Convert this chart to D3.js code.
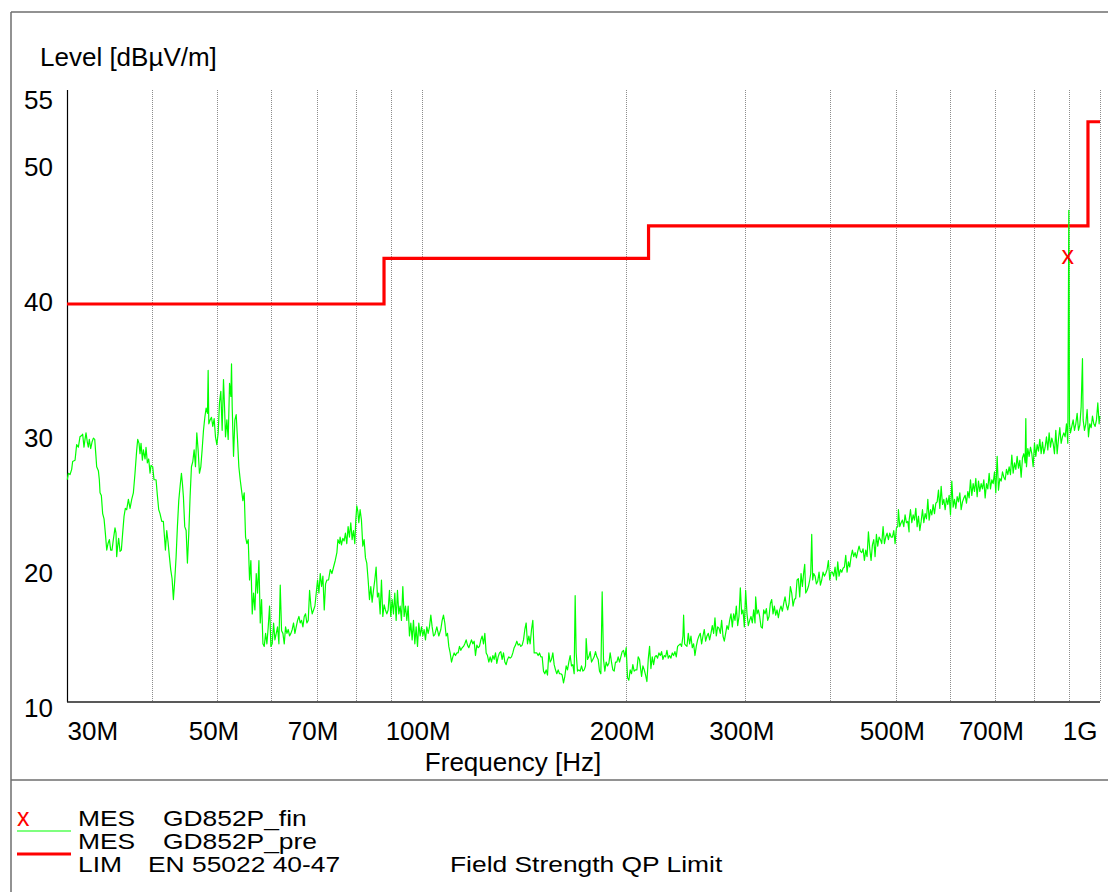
<!DOCTYPE html>
<html><head><meta charset="utf-8">
<script src="https://cdn.jsdelivr.net/npm/d3@7"></script>
<style>
body{margin:0;background:#fff}
svg{display:block}
text{font-family:"Liberation Sans",Arial,Helvetica,sans-serif;fill:#000}
</style>
</head><body>
<svg id="chart" width="1108" height="892"></svg>
<script>
// ---------- data (frequency in MHz, level in dBµV/m) ----------
const xTickValues = [30, 50, 70, 100, 200, 300, 500, 700, 1000];
const xTickLabels = ["30M", "50M", "70M", "100M", "200M", "300M", "500M", "700M", "1G"];
const gridFreqs = [40, 50, 60, 70, 80, 90, 100, 200, 300, 400, 500, 600, 700, 800, 900, 1000];
const yTickValues = [10, 20, 30, 40, 50, 55];

const limitFreq = [30, 88, 216, 960, 1000];
const limitLevel = [40, 43.5, 46, 54, 54];

const finFreq = [896];
const finLevel = [43.6];

const preScan = [
[30.03,26.5],[30.14,27.0],[30.31,26.9],[30.48,27.3],[30.58,27.9],[30.83,28.0],[31.00,29.2],[31.18,29.0],[31.35,29.8],[31.53,29.9],
[31.64,30.0],[31.78,29.0],[31.89,29.6],[32.00,30.1],[32.14,29.4],[32.25,29.0],[32.36,29.6],[32.51,28.9],[32.66,29.4],[32.81,29.7],
[32.96,29.6],[33.10,28.3],[33.18,27.5],[33.37,27.2],[33.48,26.5],[33.56,25.5],[33.71,25.3],[33.86,23.9],[34.02,23.5],[34.17,22.4],
[34.33,21.1],[34.48,21.6],[34.64,21.9],[34.80,21.1],[34.95,21.1],[35.11,21.9],[35.31,22.8],[35.43,22.4],[35.51,20.6],[35.63,21.4],
[35.75,22.0],[35.92,21.0],[36.08,21.1],[36.24,22.4],[36.41,23.7],[36.57,24.3],[36.74,24.2],[36.95,25.0],[37.16,24.3],[37.37,25.0],
[37.58,25.5],[37.79,27.0],[38.01,28.8],[38.14,29.6],[38.31,29.3],[38.44,28.5],[38.57,29.3],[38.75,28.0],[38.88,28.8],[39.10,28.1],
[39.23,29.0],[39.41,27.8],[39.59,28.1],[39.77,27.0],[39.90,27.6],[40.13,27.5],[40.31,26.5],[40.59,26.5],[40.77,25.3],[40.96,24.2],
[41.14,23.9],[41.38,23.3],[41.61,23.3],[41.90,21.1],[42.09,22.6],[42.28,21.7],[42.47,20.6],[42.66,19.6],[42.86,18.9],[43.05,17.3],
[43.25,18.8],[43.45,20.6],[43.64,22.9],[43.84,24.9],[44.04,26.0],[44.24,27.0],[44.39,26.2],[44.54,25.2],[44.74,22.9],[44.95,22.6],
[45.15,20.1],[45.36,22.4],[45.56,25.2],[45.77,27.5],[45.98,27.9],[46.19,28.8],[46.40,27.5],[46.61,30.1],[46.82,28.8],[47.03,27.0],
[47.25,27.5],[47.46,28.8],[47.68,30.3],[47.90,31.3],[48.11,32.0],[48.33,31.6],[48.44,34.9],[48.55,30.8],[48.77,31.1],[48.99,31.3],
[49.21,30.6],[49.44,31.2],[49.66,29.8],[49.89,29.2],[50.12,30.1],[50.34,32.4],[50.57,33.3],[50.80,30.3],[51.03,34.2],[51.21,32.1],
[51.38,29.8],[51.62,31.1],[51.85,29.6],[52.09,33.9],[52.32,32.9],[52.44,35.4],[52.56,32.1],[52.80,28.3],[53.04,31.1],[53.28,31.5],
[53.52,29.6],[53.76,27.5],[54.01,26.5],[54.25,25.7],[54.50,24.9],[54.75,25.5],[55.00,22.1],[55.25,21.6],[55.50,21.9],[55.75,18.8],
[56.00,20.3],[56.26,16.2],[56.51,17.8],[56.77,16.5],[57.03,19.3],[57.29,17.8],[57.55,20.3],[57.81,15.5],[58.07,17.3],[58.34,13.9],
[58.60,13.7],[58.87,14.7],[59.13,13.9],[59.40,15.2],[59.67,16.8],[59.94,13.7],[60.21,13.9],[60.49,15.5],[60.76,14.2],[61.04,14.7],
[61.31,15.2],[61.59,13.9],[61.87,18.4],[62.15,14.9],[62.43,14.7],[62.72,13.9],[63.00,15.2],[63.29,14.7],[63.57,15.0],[63.86,14.5],
[64.15,14.7],[64.44,15.0],[64.73,15.5],[65.03,14.7],[65.32,15.2],[65.62,15.7],[65.92,16.0],[66.21,15.5],[66.52,15.7],[66.82,15.2],
[67.12,16.0],[67.42,16.2],[67.73,15.5],[68.04,15.7],[68.35,18.0],[68.66,16.8],[68.97,16.2],[69.28,16.5],[69.60,16.8],[69.91,17.8],
[70.23,18.8],[70.55,17.8],[70.87,19.3],[71.19,18.3],[71.51,19.1],[71.84,16.5],[72.16,18.5],[72.49,18.8],[72.90,18.8],[73.32,19.6],
[73.73,19.3],[74.15,19.8],[74.57,20.3],[74.99,20.9],[75.25,21.9],[75.67,21.6],
[75.81,22.1],[76.16,21.5],[76.51,22.0],[76.85,21.8],[77.20,22.4],[77.55,21.6],[77.90,22.9],[78.26,22.1],[78.61,23.2],[78.97,21.9],
[79.33,22.6],[79.69,21.6],[79.96,23.4],[80.23,24.5],[80.50,24.1],[80.78,23.2],[81.14,24.2],[81.51,23.4],[81.88,21.4],[82.25,21.9],
[82.63,20.5],[83.00,20.1],[83.38,18.8],[83.76,17.3],[84.14,18.3],[84.52,17.1],[84.90,18.0],[85.29,18.8],[85.67,19.8],[86.06,17.5],
[86.45,17.8],[86.85,16.2],[87.24,18.8],[87.64,16.0],[88.03,16.9],[88.43,16.5],[88.84,16.2],[89.24,16.5],[89.64,18.0],[90.05,16.0],
[90.46,17.3],[90.87,16.2],[91.28,17.8],[91.70,15.7],[92.11,18.0],[92.53,16.2],[92.95,16.8],[93.37,15.7],[93.80,18.3],[94.22,16.0],
[94.65,16.8],[95.08,15.7],[95.51,16.8],[95.94,14.5],[96.38,15.5],[96.82,14.2],[97.25,15.7],[97.70,13.9],[98.14,15.2],[98.59,13.7],
[99.03,15.5],[99.48,14.5],[99.93,15.2],[100.39,14.5],[100.84,15.0],[101.30,14.2],[101.76,15.2],[102.22,14.7],[102.68,15.2],[103.15,16.1],
[103.62,15.2],[104.09,14.5],[104.56,14.6],[105.27,15.2],[105.99,14.5],[106.71,15.0],[107.20,15.7],[107.68,16.1],[108.17,15.5],[108.66,14.5],
[109.16,14.7],[109.65,13.7],[110.15,13.2],[110.65,12.5],[111.15,12.9],[111.65,13.2],[112.16,13.0],[112.67,13.2],[113.18,13.2],[113.69,13.7],
[114.21,13.4],[114.73,13.6],[115.25,13.7],[115.77,13.9],[116.30,14.2],[116.83,13.8],[117.35,13.6],[117.89,13.9],[118.42,14.2],[118.96,13.9],
[119.50,14.1],[120.04,13.0],[120.59,13.8],[121.13,13.6],[121.68,13.7],[122.24,14.2],[122.79,14.5],[123.35,13.9],[123.91,14.7],[124.47,13.2],
[125.03,13.0],[125.60,12.5],[126.17,12.9],[126.74,12.5],[127.32,13.0],[127.89,12.7],[128.48,13.2],[129.06,12.4],[129.64,12.9],[130.23,13.2],
[130.82,13.3],[131.41,12.7],[132.01,13.2],[132.61,12.5],[133.21,12.3],[133.82,12.7],[134.42,12.9],[135.03,12.8],[135.65,12.9],[136.26,13.2],
[136.88,13.6],[137.50,13.8],[138.12,14.1],[138.75,13.8],[139.38,13.9],[140.01,13.7],[140.65,13.8],[141.29,14.2],[141.93,15.0],[142.57,15.5],
[143.22,13.9],[143.87,14.5],[144.52,13.9],[145.18,15.0],[145.83,15.7],[146.50,13.2],[147.16,13.2],[147.83,13.2],[148.50,13.0],[149.17,13.2],
[149.85,12.9],[150.53,12.9],[151.21,11.8],[151.90,11.6],[152.59,11.9],[153.28,11.5],[153.97,13.2],[154.67,12.5],[155.37,12.7],[156.08,13.2],
[156.79,12.3],[157.50,11.9],[158.21,11.6],[158.93,11.9],[159.65,11.6],[160.38,11.6],[161.10,11.5],[161.84,10.9],[162.57,11.4],[163.31,12.2],
[164.05,11.9],[164.79,12.5],[165.54,13.0],[166.29,12.2],[167.04,12.3],[167.80,11.6],[168.37,17.6],[168.95,13.2],[169.71,11.8],[170.48,11.9],
[171.26,11.8],[172.04,12.2],[172.82,11.8],[173.60,11.9],[174.39,12.2],[174.78,14.3],[175.58,12.7],[176.37,12.9],[177.17,13.3],[177.98,12.5],
[178.79,12.7],[179.60,12.9],[180.41,13.3],[181.23,12.9],[182.05,12.7],[182.88,11.8],[183.71,11.6],[184.54,17.9],[185.38,12.7],[186.22,11.8],
[187.06,12.5],[187.91,12.2],[188.77,12.4],[189.62,13.2],[190.48,12.5],[191.35,11.9],[192.22,11.8],[193.09,12.5],[193.96,12.5],[194.84,12.9],
[195.73,12.5],[196.61,12.9],[197.51,13.3],[198.40,13.4],[199.30,12.9],[200.21,13.6],[201.12,11.3],[202.03,11.1],[202.95,11.9],[203.87,11.6],
[204.79,12.3],[205.72,11.8],[206.66,11.9],[207.59,11.9],[208.54,12.9],[209.48,12.7],
[210.00,12.2],[210.95,11.4],[211.91,12.2],[212.87,11.9],[213.84,11.5],[214.81,11.0],[215.78,12.7],[216.76,13.7],[217.75,12.0],[218.73,12.9],
[219.73,12.3],[220.72,12.9],[221.72,13.0],[222.73,12.8],[223.74,13.2],[224.76,13.0],[225.78,13.3],[226.80,12.7],[227.83,13.0],[228.87,12.9],
[229.91,13.4],[230.95,12.8],[232.00,13.0],[233.05,12.8],[234.11,13.2],[235.17,13.0],[236.24,13.3],[237.31,12.9],[238.39,13.7],[239.47,13.8],
[240.56,13.9],[241.65,13.7],[242.75,14.5],[243.30,16.1],[244.13,13.9],[244.96,13.8],[246.07,13.7],[247.19,14.7],[248.31,13.9],[249.44,14.5],
[250.57,13.6],[251.71,13.9],[252.85,13.0],[254.00,13.7],[255.15,14.2],[256.31,14.5],[257.47,14.7],[258.64,13.9],[259.82,14.5],[261.00,15.0],
[262.18,14.1],[263.37,14.5],[264.57,14.7],[265.77,14.2],[266.97,14.7],[268.19,15.3],[269.40,14.7],[270.63,15.9],[271.86,14.5],[273.09,15.2],
[274.33,15.1],[275.58,14.7],[276.83,15.7],[278.08,14.5],[279.35,14.1],[280.62,14.7],[281.89,15.3],[283.17,15.0],[284.46,15.7],[285.75,16.2],
[287.05,15.2],[288.35,16.2],[289.66,15.7],[290.98,16.8],[292.30,15.3],[293.62,16.0],[294.96,18.2],[296.30,16.2],[297.64,16.5],[298.99,15.2],
[300.35,18.0],[301.71,16.2],[303.08,15.3],[304.46,15.7],[305.84,16.0],[307.23,15.5],[308.62,16.5],[310.03,15.5],[310.73,17.5],[312.14,16.2],
[313.56,16.5],[314.98,16.0],[316.42,15.2],[317.85,15.1],[319.30,16.5],[320.75,16.2],[322.20,16.6],[323.67,15.7],[325.14,16.0],[326.61,17.0],
[328.10,17.3],[329.59,16.2],[331.08,16.8],[332.59,16.1],[334.10,16.5],[335.61,15.9],[337.14,16.5],[338.67,16.8],[340.21,16.4],[341.75,17.0],
[343.30,17.5],[344.86,16.9],[346.43,16.5],[348.00,17.0],[349.58,18.3],[351.17,17.8],[352.76,16.8],[354.36,17.3],[355.97,17.4],[357.59,18.8],
[359.21,18.9],[360.84,17.5],[362.48,19.3],[364.12,18.3],[365.78,19.4],[367.02,20.0],[368.27,17.8],[369.94,18.0],[371.62,18.3],[373.31,18.8],
[374.58,19.3],[375.85,22.3],[377.10,18.8],[378.41,19.3],[380.13,19.1],[381.85,18.5],[383.59,18.7],[385.33,19.4],[387.08,18.4],[388.83,18.8],
[390.60,19.4],[392.37,19.1],[394.15,19.3],[395.94,19.6],[397.74,20.3],[399.54,18.8],[401.36,19.4],[403.18,19.4],[405.01,19.1],[406.85,19.8],
[408.69,18.8],[410.55,20.2],[412.41,19.1],[414.29,19.6],[416.17,19.4],[418.05,19.7],[419.95,19.8],[421.86,20.7],[423.77,19.4],[425.69,20.2],
[427.63,19.8],[429.57,20.6],[431.51,21.1],[433.47,20.6],[435.44,20.9],[437.41,20.5],[439.40,21.0],[441.39,21.4],[443.40,21.0],[445.41,20.9],
[447.43,21.2],[449.46,20.3],[451.50,21.1],[453.55,20.6],[455.61,22.5],[457.67,21.2],[459.75,20.3],[461.84,21.5],[463.93,21.9],[466.04,20.6],
[468.15,22.3],[470.28,21.4],[472.41,22.1],[474.56,21.9],[476.71,21.6],[478.87,22.9],[481.05,21.6],[483.23,22.1],[485.42,22.4],[487.62,21.9],
[489.84,22.4],[492.06,22.1],[494.29,22.1],[496.54,22.6],[498.79,21.6],[501.05,22.8],[503.33,22.9],[504.47,24.2],[506.75,22.9],[509.05,23.2],
[511.36,23.4],[513.68,22.9],[516.01,23.8],[518.35,23.2],[520.70,23.3],[523.07,22.5],
[523.16,23.4],[525.54,24.2],[527.92,23.2],[530.32,23.8],[532.73,23.4],[535.15,24.3],[537.58,22.9],[540.02,23.7],[542.46,22.6],[544.92,23.3],
[547.40,24.2],[549.88,23.2],[552.38,23.9],[554.88,23.5],[557.40,25.0],[559.93,23.4],[562.47,24.2],[565.02,23.8],[567.58,24.6],[570.16,23.9],
[572.75,24.7],[575.34,24.8],[577.95,25.7],[580.57,24.3],[583.21,26.0],[585.85,24.6],[588.51,25.0],[591.18,24.2],[593.86,25.1],[596.56,24.6],
[599.26,25.3],[601.98,23.8],[604.71,26.4],[607.45,24.4],[610.21,25.0],[612.98,24.3],[615.76,25.2],[618.55,24.8],[621.36,25.5],[624.18,24.2],
[627.01,24.8],[629.86,25.1],[632.71,25.3],[635.58,24.7],[638.47,25.6],[641.36,25.1],[644.27,26.5],[647.20,25.3],[650.13,26.2],[653.08,25.6],
[656.04,26.6],[659.02,25.2],[662.01,26.4],[665.01,25.6],[668.03,26.2],[671.06,25.8],[674.10,26.5],[677.16,25.1],[680.23,26.2],[683.32,25.8],
[686.42,27.0],[689.53,25.8],[692.66,26.5],[695.80,26.2],[698.96,27.1],[702.13,25.5],[705.31,28.3],[708.51,25.7],[711.73,26.6],[714.95,26.4],
[718.20,27.1],[721.45,26.7],[724.73,26.5],[728.01,27.3],[731.32,26.9],[734.63,27.5],[737.96,26.9],[741.31,28.4],[744.68,27.0],[748.05,27.8],
[751.45,27.3],[754.85,28.3],[758.28,27.4],[761.72,28.0],[765.17,26.7],[768.64,28.2],[772.13,28.5],[775.63,27.8],[777.39,31.2],[779.15,27.5],
[782.68,28.9],[786.23,28.3],[789.80,29.0],[793.38,28.5],[796.98,27.5],[800.59,29.3],[804.23,28.3],[807.87,29.2],[811.54,28.7],[815.22,29.6],
[818.91,28.5],[822.63,29.4],[826.36,28.5],[830.11,29.0],[833.87,29.8],[837.65,28.8],[841.45,30.1],[845.27,29.0],[849.10,29.7],[852.95,29.3],
[856.82,28.5],[860.71,30.3],[864.61,28.5],[868.53,29.6],[872.47,30.5],[876.43,29.3],[880.40,29.8],[884.39,30.1],[888.40,29.8],[892.43,30.8],
[896.48,29.3],[899.53,47.2],[901.57,30.8],[904.64,30.1],[908.74,30.6],[912.87,31.1],[917.01,30.3],[921.17,30.8],[925.35,31.6],[929.55,30.3],
[933.76,30.7],[938.00,32.1],[942.25,35.8],[944.39,31.1],[948.67,30.3],[952.98,30.8],[957.30,31.9],[961.64,29.8],[966.00,30.8],[970.38,30.5],
[974.79,31.4],[979.21,30.8],[983.65,30.6],[988.11,31.1],[992.59,32.4],[997.09,30.8],[999.35,31.4]
];

const legendRows = [
  {mark: "x",    a: "MES", b: "GD852P_fin",     c: ""},
  {mark: "pre",  a: "MES", b: "GD852P_pre",     c: ""},
  {mark: "lim",  a: "LIM", b: "EN 55022 40-47", c: "Field Strength QP Limit"}
];

// ---------- drawing ----------
const svg = d3.select("#chart");
const FONT = 26;
const LEG_FONT = 22;
const LEG_SX = 1.2;

const x = d3.scaleLog().domain([30, 1000]).range([67, 1100]);
const y = d3.scaleLinear().domain([9.43, 56.44]).range([702, 90]);
const yLabel = d3.scaleLinear().domain([10, 55]).range([708, 100]);

// outer frame
const frame = svg.append("g").attr("stroke", "#6e6e6e").attr("stroke-width", 1.5);
frame.append("line").attr("x1", 11).attr("y1", 12).attr("x2", 1108).attr("y2", 12);
frame.append("line").attr("x1", 11).attr("y1", 12).attr("x2", 11).attr("y2", 892);
frame.append("line").attr("x1", 11).attr("y1", 780).attr("x2", 1108).attr("y2", 780);

// vertical dotted grid
svg.append("g").selectAll("line").data(gridFreqs).join("line")
  .attr("x1", d => Math.round(x(d)) + 0.5).attr("x2", d => Math.round(x(d)) + 0.5)
  .attr("y1", y.range()[1]).attr("y2", y.range()[0])
  .attr("stroke", "#8c8c8c").attr("stroke-width", 1).attr("stroke-dasharray", "1,1");

// axis lines
svg.append("line").attr("x1", 67.5).attr("x2", 67.5).attr("y1", 90).attr("y2", 702)
  .attr("stroke", "#000").attr("stroke-width", 1.2);
svg.append("line").attr("x1", 67).attr("x2", 1100).attr("y1", 702).attr("y2", 702)
  .attr("stroke", "#222").attr("stroke-width", 1.6);

// y axis labels
const yAxisG = svg.append("g").attr("transform", "translate(56,0)")
  .call(d3.axisLeft(yLabel).tickValues(yTickValues).tickSize(0).tickPadding(3).tickFormat(d3.format("d")));
yAxisG.select(".domain").remove();
yAxisG.attr("font-size", FONT).attr("font-family", null);
yAxisG.selectAll("text").style("fill", "#000");

// x axis labels
const xAxisG = svg.append("g").attr("transform", "translate(0,702)")
  .call(d3.axisBottom(x).tickValues(xTickValues).tickSize(0).tickPadding(0)
    .tickFormat((d, i) => xTickLabels[i]));
xAxisG.select(".domain").remove();
xAxisG.attr("font-size", FONT).attr("font-family", null);
xAxisG.selectAll("text").style("fill", "#000")
  .attr("y", 38).attr("dy", null)
  .attr("dx", (d, i) => (i === 0 || i === xTickValues.length - 1) ? 0 : -4)
  .attr("text-anchor", (d, i) => i === 0 ? "start" : (i === xTickValues.length - 1 ? "end" : "middle"))
  .attr("x", (d, i) => i === xTickValues.length - 1 ? -3 : 0);

// axis titles
svg.append("text").attr("x", 40).attr("y", 66).attr("font-size", FONT).text("Level [dBµV/m]");
svg.append("text").attr("x", 513).attr("y", 771).attr("font-size", FONT)
  .attr("text-anchor", "middle").text("Frequency [Hz]");

// limit line (step)
const limitPts = d3.zip(limitFreq, limitLevel);
svg.append("path").datum(limitPts)
  .attr("d", d3.line().x(d => x(d[0])).y(d => y(d[1])).curve(d3.curveStepAfter))
  .attr("fill", "none").attr("stroke", "#ff0000").attr("stroke-width", 3.2);

// pre-scan trace
svg.append("path").datum(preScan)
  .attr("d", d3.line().x(d => x(d[0])).y(d => y(d[1])))
  .attr("fill", "none").attr("stroke", "#00ff00").attr("stroke-width", 1.2)
  .attr("stroke-linejoin", "round");

// final measurement markers
svg.append("g").selectAll("text").data(d3.zip(finFreq, finLevel)).join("text")
  .attr("x", d => x(d[0])).attr("y", d => y(d[1])).attr("dy", "0.27em")
  .attr("text-anchor", "middle").attr("font-size", 25)
  .style("fill", "#ff0000").text("x");

// legend (text slightly stretched horizontally, as in the reference)
const legY0 = 826, legDY = 23;
const leg = svg.append("g");
function legText(tx, ty, str) {
  leg.append("text").attr("transform", `translate(${tx},${ty}) scale(${LEG_SX},1)`)
    .attr("font-size", LEG_FONT).text(str);
}
legendRows.forEach((r, i) => {
  const by = legY0 + i * legDY;
  if (r.mark === "x") {
    leg.append("text").attr("x", 17).attr("y", by).attr("font-size", 25)
      .style("fill", "#ff0000").text("x");
  } else if (r.mark === "pre") {
    leg.append("line").attr("x1", 17).attr("x2", 71).attr("y1", by - 18).attr("y2", by - 18)
      .attr("stroke", "#00ff00").attr("stroke-width", 1.2);
  } else {
    leg.append("line").attr("x1", 17).attr("x2", 71).attr("y1", by - 18).attr("y2", by - 18)
      .attr("stroke", "#ff0000").attr("stroke-width", 3);
  }
  legText(78, by, r.a);
  legText(r.a === "LIM" ? 148 : 163, by, r.b);
  if (r.c) legText(450, by, r.c);
});
</script>
</body></html>
